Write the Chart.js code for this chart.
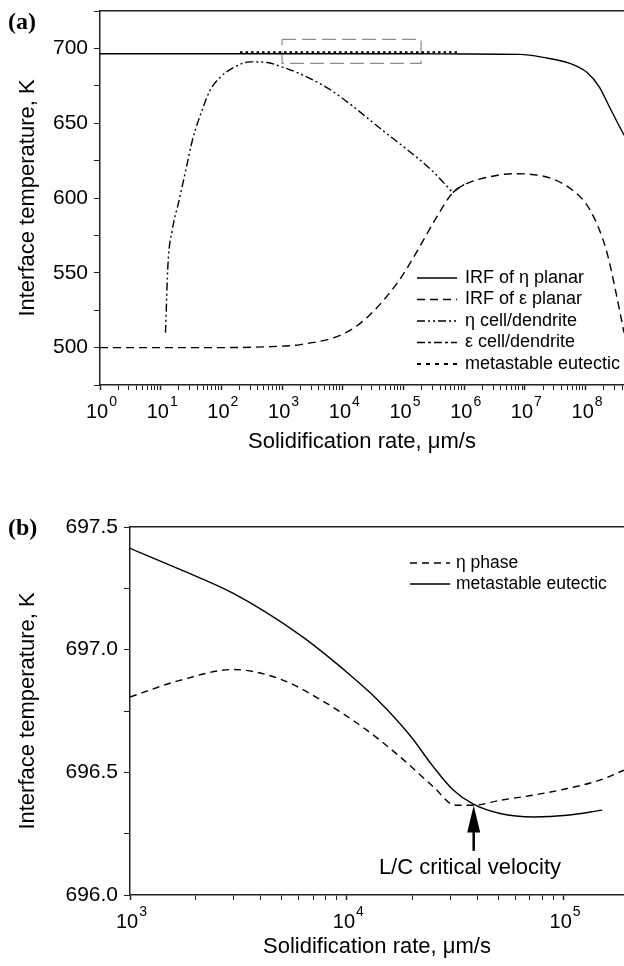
<!DOCTYPE html>
<html>
<head>
<meta charset="utf-8">
<script src="https://cdn.jsdelivr.net/npm/chart.js@4.4.1/dist/chart.umd.min.js"></script>
<style>
  body { margin: 0; background: #fff; width: 624px; height: 966px; overflow: hidden; position: relative; }
  #wa { position: absolute; left: 0; top: 0; width: 624px; height: 460px; }
  #wb { position: absolute; left: 0; top: 460px; width: 624px; height: 506px; }
  .lbl { position: absolute; font: bold 24px "Liberation Serif", "Times New Roman", serif; color: #000; }
</style>
</head>
<body>
<div id="wa"><canvas id="ca"></canvas></div>
<div id="wb"><canvas id="cb"></canvas></div>
<div class="lbl" style="left:8px;top:8px">(a)</div>
<div class="lbl" style="left:8px;top:514px">(b)</div>
<script>
// ---- panel (a) data ----
const etaPlanarX = [1, 1e3, 1e5, 1e6, 8.3e6, 2e7, 5.5e7, 1.05e8, 1.7e8, 2.5e8, 4.3e8];
const etaPlanarY = [696.4, 696.4, 696.4, 696.3, 696, 694, 690, 684, 674, 660.5, 642];

const epsPlanarX = [1, 100, 1000, 2000, 1e4, 2.5e4, 8.5e4, 1.6e5, 3.5e5, 6.5e5, 1.1e6, 2.5e6, 6.3e6, 1.8e7, 6.2e7, 1.2e8, 2.2e8, 3.2e8, 4.3e8];
const epsPlanarY = [500, 500, 501, 502, 509, 520, 545, 563, 587, 603.6, 609.6, 614, 616.2, 615, 605, 591.6, 565, 536, 510];

const etaCellX = [12, 13.2, 15.4, 20, 27, 34, 50, 65, 95, 155, 295, 560, 1050, 1740, 3200, 7000, 4.6e4, 3e5, 6.5e5];
const etaCellY = [510, 556, 578, 598, 622, 640, 660.5, 672, 680.6, 687, 691, 690.6, 687.3, 684, 679, 671, 645, 618, 603.6];

const epsCellX = [6.5e5, 8e5, 1e6];
const epsCellY = [603.6, 606.5, 609];

const eutecticAX = [203, 7.6e5];
const eutecticAY = [697.5, 697.5];

const zoomBoxX = [1e3, 1.95e5];
const zoomBoxY = [690, 706];

const xRangeA = [1, 4.3e8];
const yTicksA = [475, 500, 525, 550, 575, 600, 625, 650, 675, 700, 725];

// ---- panel (b) data ----
const etaPhaseX = [1000, 1700, 3000, 4930, 7540, 1.236e4, 1.762e4, 2.51e4, 3.166e4, 3.837e4, 5.093e4, 7.262e4, 1.039e5, 1.47e5, 1.9e5];
const etaPhaseY = [696.807, 696.875, 696.919, 696.88, 696.797, 696.672, 696.563, 696.441, 696.366, 696.366, 696.386, 696.407, 696.434, 696.468, 696.509];

const eutecticBX = [1000, 1700, 3000, 6095, 1.035e4, 1.374e4, 1.959e4, 2.51e4, 3.106e4, 3.837e4, 5.093e4, 7.262e4, 1.039e5, 1.507e5];
const eutecticBY = [697.413, 697.327, 697.229, 697.059, 696.897, 696.799, 696.650, 696.522, 696.427, 696.37, 696.332, 696.318, 696.325, 696.346];

const arrowX = 3.85e4;
const arrowTipY = 696.365;
const arrowTailY = 696.18;
const noteX = 3.7e4;
const noteY = 696.11;
const noteText = 'L/C critical velocity';

const xRangeB = [1000, 1.9e5];
const yTicksB = [696.0, 696.25, 696.5, 696.75, 697.0, 697.25, 697.5];

const FONT = '"Liberation Sans", Arial, sans-serif';

function pts(xs, ys) { return xs.map((x, i) => ({ x: x, y: ys[i] })); }
function isPow10(v) { const l = Math.log10(v); return Math.abs(l - Math.round(l)) < 1e-9; }
function logTicks(min, max) {
  const out = [];
  for (let e = Math.floor(Math.log10(min)); e <= Math.ceil(Math.log10(max)); e++) {
    for (let m = 1; m < 10; m++) {
      const v = m * Math.pow(10, e);
      if (v >= min * 0.9999 && v <= max) out.push({ value: v });
    }
  }
  return out;
}

// legend drawn inside the plot area
const insideLegend = {
  id: 'insideLegend',
  afterDraw(chart, args, opts) {
    const ctx = chart.ctx;
    const items = chart.data.datasets.filter(d => d.inLegend);
    ctx.save();
    ctx.font = opts.font;
    ctx.fillStyle = '#000';
    ctx.strokeStyle = '#000';
    ctx.textBaseline = 'middle';
    items.forEach((d, i) => {
      const y = opts.y + i * opts.rowH;
      ctx.lineWidth = d.borderWidth;
      ctx.setLineDash(d.legendDash || d.borderDash || []);
      ctx.beginPath();
      ctx.moveTo(opts.x, y);
      ctx.lineTo(opts.x + opts.len, y);
      ctx.stroke();
      ctx.setLineDash([]);
      ctx.fillText(d.label, opts.x + opts.len + opts.gap, y);
    });
    ctx.restore();
  }
};

// 10^n labels with a raised exponent, placed at the log axis' own ticks
const powerLabels = {
  id: 'powerLabels',
  afterDraw(chart) {
    const sx = chart.scales.x, ctx = chart.ctx;
    ctx.save();
    ctx.fillStyle = '#000';
    ctx.textBaseline = 'alphabetic';
    ctx.textAlign = 'left';
    sx.ticks.filter(t => isPow10(t.value)).forEach(t => {
      const px = sx.getPixelForValue(t.value);
      const exp = String(Math.round(Math.log10(t.value)));
      ctx.font = '20px ' + FONT;
      const w1 = ctx.measureText('10').width;
      ctx.font = '14px ' + FONT;
      const w2 = ctx.measureText(exp).width;
      const x0 = px - (w1 + w2) / 2 + 1;
      ctx.font = '20px ' + FONT;
      ctx.fillText('10', x0, sx.top + 33);
      ctx.font = '14px ' + FONT;
      ctx.fillText(exp, x0 + w1 + 1, sx.top + 21);
    });
    ctx.restore();
  }
};

const annotate = {
  id: 'annotate',
  afterDatasetsDraw(chart) {
    const ctx = chart.ctx, sx = chart.scales.x, sy = chart.scales.y;
    const ax = sx.getPixelForValue(arrowX);
    const tip = sy.getPixelForValue(arrowTipY);
    const tail = sy.getPixelForValue(arrowTailY);
    ctx.save();
    ctx.fillStyle = '#000';
    ctx.strokeStyle = '#000';
    ctx.lineWidth = 2.5;
    ctx.beginPath();
    ctx.moveTo(ax, tail);
    ctx.lineTo(ax, tip + 20);
    ctx.stroke();
    ctx.beginPath();
    ctx.moveTo(ax, tip);
    ctx.lineTo(ax - 6.5, tip + 27);
    ctx.lineTo(ax + 6.5, tip + 27);
    ctx.closePath();
    ctx.fill();
    ctx.font = '22px ' + FONT;
    ctx.textAlign = 'center';
    ctx.textBaseline = 'middle';
    ctx.fillText(noteText, sx.getPixelForValue(noteX), sy.getPixelForValue(noteY));
    ctx.restore();
  }
};

function line(label, xs, ys, dash, extra) {
  return Object.assign({
    label: label,
    data: pts(xs, ys),
    borderColor: '#000',
    borderWidth: 1.4,
    borderDash: dash,
    pointRadius: 0,
    fill: false,
    cubicInterpolationMode: 'monotone',
    inLegend: true
  }, extra || {});
}

function scalesFor(xRange, yRange, yTicks, yFmt, yW, xH, titleBottomPad) {
  return {
    x: {
      type: 'logarithmic', min: xRange[0], max: xRange[1],
      afterBuildTicks: s => { s.ticks = logTicks(xRange[0], xRange[1]); },
      afterFit: s => { s.height = xH; s.paddingLeft = 0; s.paddingRight = 0; },
      ticks: { autoSkip: false, maxRotation: 0, callback: () => '' },
      grid: { drawOnChartArea: false, tickLength: 5, tickColor: '#222',
        tickWidth: c => (c.tick && isPow10(c.tick.value)) ? 1.5 : 1 },
      border: { color: '#222', width: 1.5 },
      title: { display: true, text: 'Solidification rate, \u03bcm/s', color: '#000',
        font: { family: FONT, size: 22 }, padding: { top: 0, bottom: titleBottomPad } }
    },
    xTop: {
      type: 'linear', position: 'top', display: true,
      afterFit: s => { s.height = 0; },
      ticks: { display: false }, grid: { display: false },
      border: { display: true, color: '#222', width: 1.5 }
    },
    y: {
      min: yRange[0], max: yRange[1],
      afterBuildTicks: s => { s.ticks = yTicks.map(v => ({ value: v })); },
      afterFit: s => { s.width = yW; s.paddingTop = 0; s.paddingBottom = 0; },
      ticks: { autoSkip: false, padding: 6, color: '#000', font: { family: FONT, size: 21 }, callback: yFmt },
      grid: { drawOnChartArea: false, tickLength: 6, tickColor: '#222' },
      border: { color: '#222', width: 1.5 },
      title: { display: true, text: 'Interface temperature, K', color: '#000',
        font: { family: FONT, size: 22 }, padding: { top: 15, bottom: 0 } }
    }
  };
}

new Chart(document.getElementById('ca'), {
  type: 'line',
  data: {
    datasets: [
      line('IRF of \u03b7 planar', etaPlanarX, etaPlanarY, []),
      line('IRF of \u03b5 planar', epsPlanarX, epsPlanarY, [8, 5]),
      line('\u03b7 cell/dendrite', etaCellX, etaCellY, [8, 3, 2, 3, 2, 3]),
      line('\u03b5 cell/dendrite', epsCellX, epsCellY, [8, 3, 3, 3]),
      line('metastable eutectic', eutecticAX, eutecticAY, [2.5, 3], { borderWidth: 2, legendDash: [4, 5], cubicInterpolationMode: 'default' }),
      line('zoom box', [zoomBoxX[0], zoomBoxX[1], zoomBoxX[1], zoomBoxX[0], zoomBoxX[0]],
        [zoomBoxY[1], zoomBoxY[1], zoomBoxY[0], zoomBoxY[0], zoomBoxY[1]], [14, 6],
        { borderColor: '#8c8c8c', borderWidth: 1.2, inLegend: false, cubicInterpolationMode: 'default', tension: 0 })
    ]
  },
  options: {
    responsive: true, maintainAspectRatio: false, animation: false,
    layout: { padding: { top: 11, right: 0, left: 0, bottom: 0 } },
    scales: scalesFor(xRangeA, [475, 725], yTicksA, v => (v % 50 === 0 ? String(v) : ''), 100, 75, 5),
    plugins: {
      legend: { display: false }, tooltip: { enabled: false },
      insideLegend: { x: 417, y: 278, rowH: 21.5, len: 40, gap: 8, font: '18px ' + FONT }
    }
  },
  plugins: [insideLegend, powerLabels]
});

new Chart(document.getElementById('cb'), {
  type: 'line',
  data: {
    datasets: [
      line('\u03b7 phase', etaPhaseX, etaPhaseY, [7, 5]),
      line('metastable eutectic', eutecticBX, eutecticBY, [])
    ]
  },
  options: {
    responsive: true, maintainAspectRatio: false, animation: false,
    layout: { padding: { top: 67, right: 0, left: 0, bottom: 0 } },
    scales: scalesFor(xRangeB, [696, 697.5], yTicksB,
      v => (Math.abs(v * 2 - Math.round(v * 2)) < 1e-6 ? v.toFixed(1) : ''), 130, 71, 6),
    plugins: {
      legend: { display: false }, tooltip: { enabled: false },
      insideLegend: { x: 410, y: 103, rowH: 21, len: 40, gap: 6, font: '17.5px ' + FONT }
    }
  },
  plugins: [insideLegend, powerLabels, annotate]
});
</script>
</body>
</html>
